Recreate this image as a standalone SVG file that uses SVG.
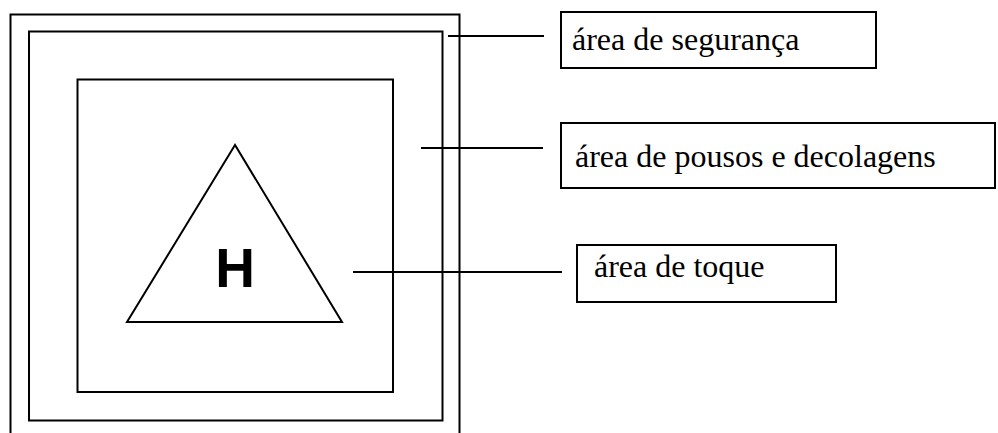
<svg xmlns="http://www.w3.org/2000/svg" width="998" height="433" viewBox="0 0 998 433">
<style>
.ln{fill:none;stroke:#000;stroke-width:2}
.lbl{font-family:'Liberation Serif','Times New Roman',Times,serif;font-size:32px;fill:#000}
</style>
<rect width="998" height="433" fill="#fff"/>
<g id="outer-area">
<polyline class="ln" points="10.5,433 10.5,14.5 459.5,14.5 459.5,433"/>
</g>
<g id="area-seguranca">
<rect class="ln" x="29" y="31.5" width="413.5" height="389"/>
</g>
<g id="area-pousos">
<rect class="ln" x="77.5" y="79.5" width="315.5" height="312.5"/>
</g>
<g id="area-toque">
<polygon class="ln" points="235,145 127,322 342,322"/>
<text x="235" y="287" text-anchor="middle" font-family="Liberation Sans, Arial, sans-serif" font-weight="bold" font-size="55">H</text>
</g>
<g id="label-seguranca">
<rect class="ln" x="561" y="12" width="315" height="56"/>
<text class="lbl" x="572" y="50" font-family="Liberation Serif, serif">área de segurança</text>
</g>
<g id="label-pousos">
<rect class="ln" x="561" y="123" width="434" height="65"/>
<text class="lbl" x="575" y="167" font-family="Liberation Serif, serif">área de pousos e decolagens</text>
</g>
<g id="label-toque">
<rect class="ln" x="577" y="245" width="259" height="57"/>
<text class="lbl" x="594" y="277" font-family="Liberation Serif, serif">área de toque</text>
</g>
<g id="connectors">
<line class="ln" x1="448" y1="36" x2="544" y2="36"/>
<line class="ln" x1="421" y1="148" x2="543" y2="148"/>
<line class="ln" x1="353" y1="272" x2="562" y2="272"/>
</g>
</svg>
